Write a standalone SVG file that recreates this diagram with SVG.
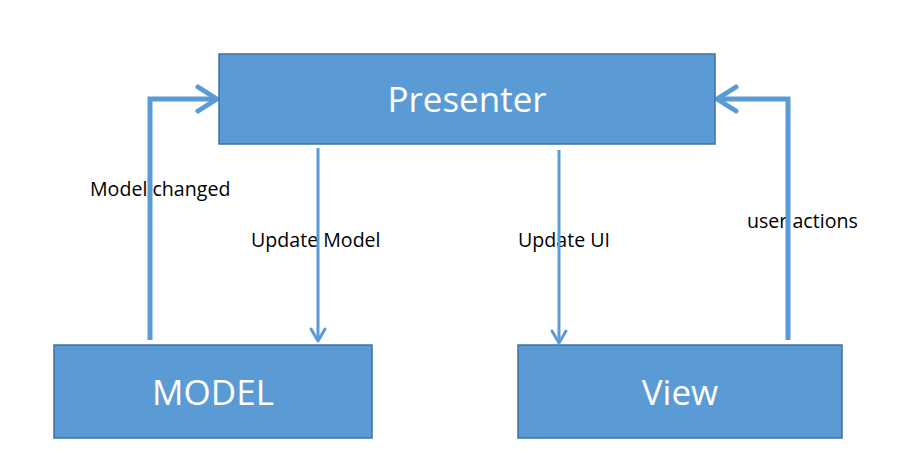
<svg xmlns="http://www.w3.org/2000/svg" width="919" height="475" viewBox="0 0 919 475">
<style>
.box{fill:#5B9BD5;stroke:#41719C;stroke-width:1.5}
.big{fill:#fff;font-family:"Open Sans","Liberation Sans",sans-serif;font-size:35px;text-anchor:middle}
.lbl{fill:#000;font-family:"Open Sans","Liberation Sans",sans-serif;font-size:19.6px}
.thick{fill:none;stroke:#5B9BD5;stroke-width:5;stroke-linejoin:miter}
.thin{fill:none;stroke:#5B9BD5;stroke-width:3}
.head{fill:none;stroke:#5B9BD5;stroke-linecap:round;stroke-linejoin:round}
</style>
<rect width="919" height="475" fill="#fff"/>
<g id="labels">
<text class="lbl" x="90" y="196">Model changed</text>
<text class="lbl" x="251" y="247">Update Model</text>
<text class="lbl" x="518" y="247">Update UI</text>
<text class="lbl" x="747" y="228">user actions</text>
</g>
<g id="connectors">
<polyline class="thick" points="150,340 150,99 216,99"/>
<polyline class="head" stroke-width="5" points="198,87 217,99 198,111"/>
<polyline class="thick" points="788,340 788,99 718,99"/>
<polyline class="head" stroke-width="5" points="736,87 717,99 736,111"/>
<line class="thin" x1="318" y1="148" x2="318" y2="340"/>
<polyline class="head" stroke-width="3" points="311,329 318,341 325,329"/>
<line class="thin" x1="559" y1="150" x2="559" y2="342"/>
<polyline class="head" stroke-width="3" points="552,331 559,343 566,331"/>
</g>
<g id="presenter">
<rect class="box" x="219" y="54" width="496" height="90"/>
<text class="big" x="467" y="112">Presenter</text>
</g>
<g id="model">
<rect class="box" x="54" y="345" width="318" height="93"/>
<text class="big" x="213" y="405">MODEL</text>
</g>
<g id="view">
<rect class="box" x="518" y="345" width="324" height="93"/>
<text class="big" x="680" y="405">View</text>
</g>
</svg>
